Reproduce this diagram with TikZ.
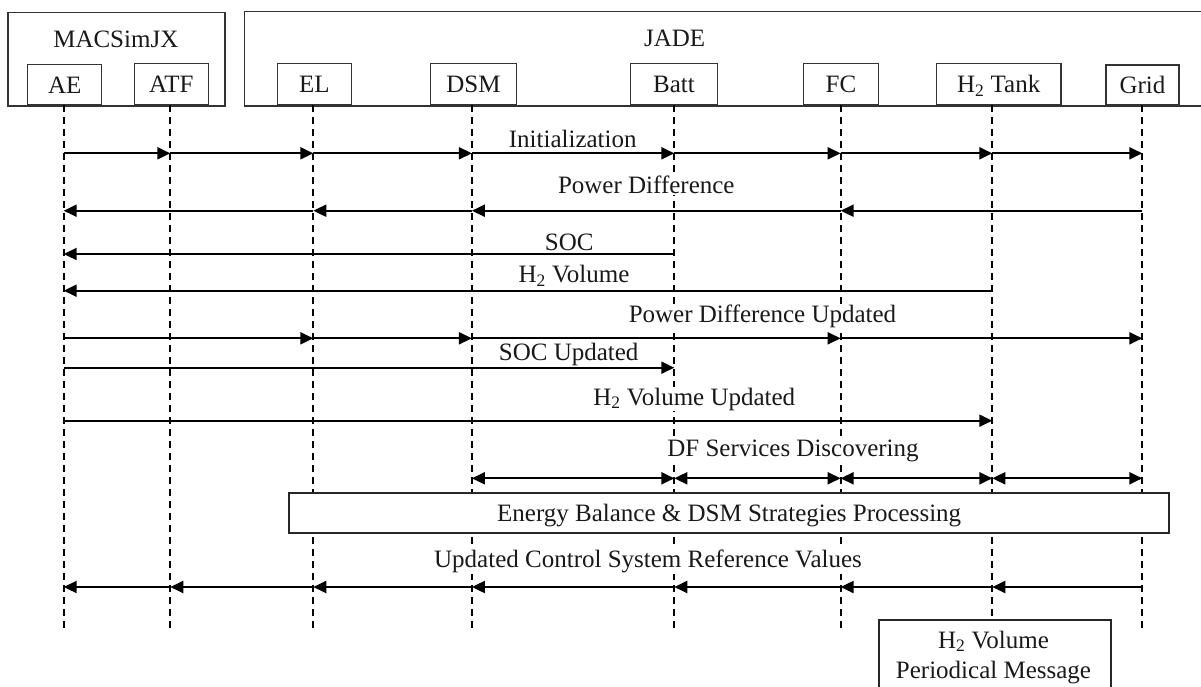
\documentclass[tikz,border=0pt]{standalone}
\usepackage{fontspec}
\setmainfont{Liberation Serif}
\usetikzlibrary{arrows.meta}
\begin{document}
\begin{tikzpicture}[x=1pt,y=-1pt,
  every node/.style={font=\fontsize{25}{30}\selectfont, text=black!90},
  groupbox/.style={draw=black!80, line width=1.3pt, anchor=north west, inner sep=0pt},
  agent/.style={draw=black!80, fill=white, line width=1.3pt, anchor=south, minimum height=40pt,
                text height=17pt, text depth=0pt, inner sep=0pt},
  life/.style={line width=2pt, dash pattern=on 7pt off 5pt},
  msg/.style={line width=2pt, -{Triangle[length=13pt,width=12pt]}},
  dmsg/.style={line width=2pt, {Triangle[length=13pt,width=12pt]}-{Triangle[length=13pt,width=12pt]}},
  lbl/.style={fill=white, inner sep=1pt, anchor=base},
  procbox/.style={draw=black!85, fill=white, line width=1.8pt, text height=17pt, text depth=0pt, inner sep=0pt}
]
\useasboundingbox (0,0) rectangle (1201,686);

% group boxes
\node[groupbox, minimum width=217pt, minimum height=93.6pt] (MAC) at (7.3,11.7) {};
\node[groupbox, minimum width=962pt, minimum height=94.3pt] (JADE) at (244,11) {};
\node[anchor=base] (MACl) at (115.8,47.7) {MACSimJX};
\node[anchor=base] (JADEl) at (674.7,46.7) {JADE};

% lifeline tops
\coordinate (lAE)   at (63.7,105.3);
\coordinate (lATF)  at (170.3,105.3);
\coordinate (lEL)   at (313.3,105.3);
\coordinate (lDSM)  at (471.9,105.3);
\coordinate (lBatt) at (674.3,105.3);
\coordinate (lFC)   at (840.6,105.3);
\coordinate (lH2)   at (992.3,105.3);
\coordinate (lGrid) at (1142.3,105.3);

% bottom box (defined first for lifeline end)
\node[draw=black!85, line width=1.8pt, anchor=north west, minimum width=232pt, minimum height=90pt, inner sep=0pt] (PM) at (877.7,618.7) {};

% lifelines
\foreach \l in {AE,ATF,EL,DSM,Batt,FC,Grid}
  \draw[life] (l\l) -- (l\l |- 0,629.3);
\draw[life] (lH2) -- (lH2 |- PM.north);

% agent boxes
\node[agent, minimum width=74pt] (AE) at (64.7,105.3) {AE};
\node[agent, minimum width=74pt, minimum height=41pt] (ATF) at (171.3,105.3) {ATF};
\node[agent, minimum width=74pt, minimum height=41pt] (EL) at (314.3,105.3) {EL};
\node[agent, minimum width=86.4pt, minimum height=41pt] (DSM) at (473.5,105.3) {DSM};
\node[agent, minimum width=86.6pt, minimum height=41pt] (Batt) at (674,105.3) {Batt};
\node[agent, minimum width=75.4pt, minimum height=41pt] (FC) at (841,105.3) {FC};
\node[agent, minimum width=124.7pt, minimum height=41pt] (H2) at (998.7,105.3) {H\textsubscript{2} Tank};
\node[agent, minimum width=73pt, minimum height=39.6pt] (Grid) at (1142.5,105.3) {Grid};

% labels
\node[lbl] (tInit) at (572.7,147.7) {Initialization};
\node[lbl] (tPD)   at (646.3,193.3) {Power Difference};
\node[lbl] (tSOC)  at (569.2,250.7) {SOC};
\node[lbl] (tH2V)  at (574,282.3) {H\textsubscript{2} Volume};
\node[lbl] (tPDU)  at (762.5,322.7) {Power Difference Updated};
\node[lbl] (tSOCU) at (568.7,360) {SOC Updated};
\node[lbl] (tH2VU) at (694.3,405) {H\textsubscript{2} Volume Updated};
\node[lbl] (tDF)   at (793,456) {DF Services Discovering};
\node[lbl] (tUCS)  at (648,567.5) {Updated Control System Reference Values};

% messages
\foreach \a/\b in {AE/ATF, ATF/EL, EL/DSM, DSM/Batt, Batt/FC, FC/H2, H2/Grid}
  \draw[msg] (l\a |- 0,153.3) -- (l\b |- 0,153.3);
\foreach \a/\b in {Grid/FC, FC/DSM, DSM/EL, EL/AE}
  \draw[msg] (l\a |- 0,210.7) -- (l\b |- 0,210.7);
\draw[msg] (lBatt |- 0,254) -- (lAE |- 0,254);
\draw[msg] (lH2 |- 0,290.7) -- (lAE |- 0,290.7);
\foreach \a/\b in {AE/EL, EL/DSM, DSM/FC, FC/Grid}
  \draw[msg] (l\a |- 0,338.3) -- (l\b |- 0,338.3);
\draw[msg] (lAE |- 0,367.7) -- (lBatt |- 0,367.7);
\draw[msg] (lAE |- 0,420.7) -- (lH2 |- 0,420.7);
\foreach \a/\b in {DSM/Batt, Batt/FC, FC/H2, H2/Grid}
  \draw[dmsg] (l\a |- 0,478.3) -- (l\b |- 0,478.3);
\foreach \a/\b in {Grid/H2, H2/FC, FC/Batt, Batt/DSM, DSM/EL, EL/ATF, ATF/AE}
  \draw[msg] (l\a |- 0,587) -- (l\b |- 0,587);

% processing box
\node[procbox, minimum width=879.7pt, minimum height=40pt] (EB) at (729.2,513.3) {Energy Balance \& DSM Strategies Processing};

% periodical message text
\node[anchor=base] (PMt1) at (993.5,648) {H\textsubscript{2} Volume};
\node[anchor=base] (PMt2) at (993.5,678) {Periodical Message};
\end{tikzpicture}
\end{document}
